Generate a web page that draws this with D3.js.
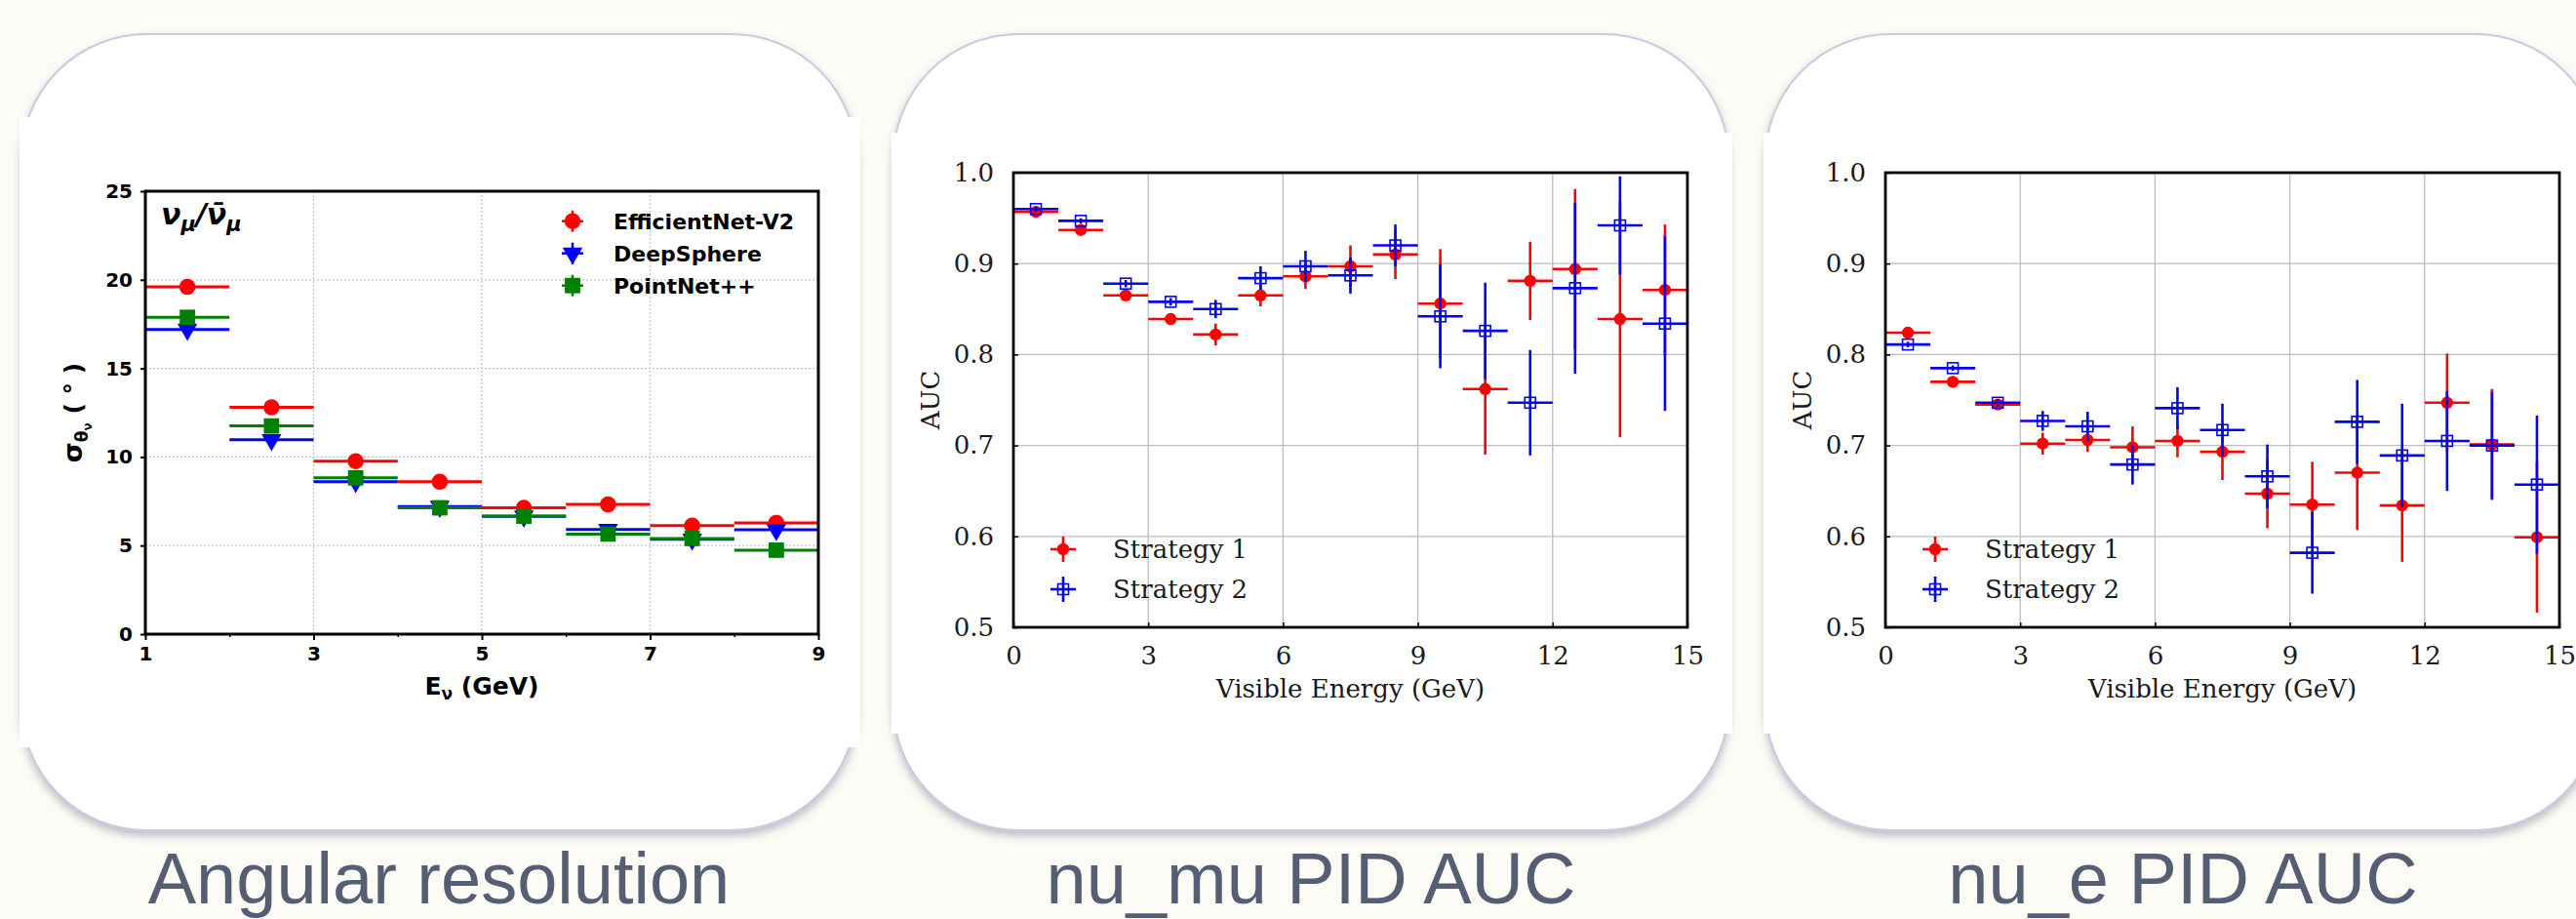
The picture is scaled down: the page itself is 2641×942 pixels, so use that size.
<!DOCTYPE html>
<html>
<head>
<meta charset="utf-8">
<script src="https://cdn.jsdelivr.net/npm/d3@7"></script>
<style>
  html, body { margin: 0; padding: 0; background: #fcfbf5; }
  svg { display: block; }
</style>
</head>
<body>
<script>
// Data
//////////////////////////////////////////////////////////////////////
// angular resolution, bins of 1 GeV
var angEnergy = [1.5, 2.5, 3.5, 4.5, 5.5, 6.5, 7.5, 8.5];
var effNet     = [19.6, 12.8, 9.76, 8.6, 7.13, 7.32, 6.12, 6.28];
var deepSphere = [17.2, 10.97, 8.6, 7.2, 6.65, 5.9, 5.35, 5.89];
var pointNet   = [17.88, 11.75, 8.82, 7.13, 6.66, 5.65, 5.4, 4.74];
var angNames = ["EfficientNet-V2", "DeepSphere", "PointNet++"];

// PID AUC, bins of 1 GeV visible energy
var aucEnergy = [0.5, 1.5, 2.5, 3.5, 4.5, 5.5, 6.5, 7.5, 8.5, 9.5, 10.5, 11.5, 12.5, 13.5, 14.5];
var numuS1    = [0.957, 0.937, 0.865, 0.839, 0.822, 0.865, 0.886, 0.897, 0.910, 0.856, 0.762, 0.881, 0.894, 0.839, 0.871];
var numuS1Err = [0.003, 0.003, 0.004, 0.005, 0.012, 0.012, 0.014, 0.023, 0.027, 0.060, 0.072, 0.043, 0.088, 0.130, 0.072];
var numuS2    = [0.960, 0.947, 0.878, 0.858, 0.850, 0.884, 0.897, 0.887, 0.920, 0.842, 0.826, 0.747, 0.873, 0.942, 0.834];
var numuS2Err = [0.003, 0.003, 0.004, 0.004, 0.010, 0.013, 0.017, 0.020, 0.023, 0.057, 0.053, 0.058, 0.094, 0.054, 0.096];
var nueS1     = [0.824, 0.770, 0.745, 0.702, 0.706, 0.698, 0.705, 0.693, 0.647, 0.635, 0.670, 0.634, 0.747, 0.701, 0.599];
var nueS1Err  = [0.003, 0.003, 0.005, 0.012, 0.013, 0.023, 0.018, 0.031, 0.038, 0.047, 0.063, 0.062, 0.054, 0.061, 0.083];
var nueS2     = [0.811, 0.785, 0.747, 0.727, 0.721, 0.679, 0.741, 0.717, 0.666, 0.582, 0.726, 0.689, 0.705, 0.700, 0.657];
var nueS2Err  = [0.003, 0.003, 0.004, 0.011, 0.016, 0.022, 0.023, 0.029, 0.035, 0.045, 0.046, 0.057, 0.055, 0.059, 0.076];
var strategyNames = ["Strategy 1", "Strategy 2"];

var captions = ["Angular resolution", "nu_mu PID AUC", "nu_e PID AUC"];

// Layout
//////////////////////////////////////////////////////////////////////
var width = 2641, height = 942;
var cardW = 856, cardTop = 35, cardH = 816, cardR = 128;
var cardX = [22, 916, 1810];
var sheets = [
  { x: 20, y: 120, w: 862, h: 646 },
  { x: 914, y: 136, w: 862, h: 616 },
  { x: 1808, y: 136, w: 862, h: 616 }
];
var red = "#ff0000", blue = "#0000ff", green = "#008000";

var svg = d3.select("body").append("svg")
  .attr("width", width)
  .attr("height", height);

var defs = svg.append("defs");
defs.append("filter")
  .attr("id", "cardShadow")
  .attr("x", "-5%").attr("y", "-5%").attr("width", "110%").attr("height", "115%")
  .append("feDropShadow")
  .attr("dx", 0).attr("dy", 5).attr("stdDeviation", 4)
  .attr("flood-color", "#7d8398").attr("flood-opacity", 0.5);

// Cards
//////////////////////////////////////////////////////////////////////
svg.append("g").selectAll("rect")
  .data(cardX)
  .join("rect")
  .attr("x", d => d).attr("y", cardTop)
  .attr("width", cardW).attr("height", cardH)
  .attr("rx", cardR).attr("ry", cardR)
  .attr("fill", "#ffffff")
  .attr("stroke", "#c7cce0").attr("stroke-width", 2)
  .attr("filter", "url(#cardShadow)");

svg.append("g").selectAll("rect")
  .data(sheets)
  .join("rect")
  .attr("x", d => d.x).attr("y", d => d.y)
  .attr("width", d => d.w).attr("height", d => d.h)
  .attr("fill", "#ffffff");

svg.append("g")
  .attr("font-family", "'Liberation Sans', Arial, sans-serif")
  .attr("font-size", 74)
  .attr("fill", "#555e72")
  .attr("text-anchor", "middle")
  .selectAll("text")
  .data(captions)
  .join("text")
  .attr("x", (d, i) => cardX[i] + cardW / 2)
  .attr("y", 926)
  .text(d => d);

// Chart 1: angular resolution
//////////////////////////////////////////////////////////////////////
(function angularChart() {
  var p = { left: 149, right: 839, top: 196, bottom: 650 };
  var x = d3.scaleLinear().domain([1, 9]).range([p.left, p.right]);
  var y = d3.scaleLinear().domain([0, 25]).range([p.bottom, p.top]);
  var g = svg.append("g")
    .attr("font-family", "'DejaVu Sans', sans-serif")
    .attr("font-weight", "bold");

  // dotted grid
  var grid = g.append("g")
    .attr("stroke", "#c4c4c4").attr("stroke-width", 1.2).attr("stroke-dasharray", "2,2");
  grid.selectAll("line.v").data([3, 5, 7]).join("line")
    .attr("x1", d => x(d)).attr("x2", d => x(d)).attr("y1", p.top).attr("y2", p.bottom);
  grid.selectAll("line.h").data([5, 10, 15, 20]).join("line")
    .attr("x1", p.left).attr("x2", p.right).attr("y1", d => y(d)).attr("y2", d => y(d));

  var series = [
    { name: angNames[0], values: effNet, color: red, shape: d3.symbolCircle, size: 215, rot: 0 },
    { name: angNames[1], values: deepSphere, color: blue, shape: d3.symbolTriangle, size: 180, rot: 180 },
    { name: angNames[2], values: pointNet, color: green, shape: d3.symbolSquare, size: 250, rot: 0 }
  ];

  series.forEach(function (s) {
    var sg = g.append("g");
    var pts = angEnergy.map((e, i) => ({ e: e, v: s.values[i] }));
    sg.selectAll("line").data(pts).join("line")
      .attr("x1", d => x(d.e - 0.5)).attr("x2", d => x(d.e + 0.5))
      .attr("y1", d => y(d.v)).attr("y2", d => y(d.v))
      .attr("stroke", s.color).attr("stroke-width", 3);
    sg.selectAll("path").data(pts).join("path")
      .attr("d", d3.symbol(s.shape, s.size))
      .attr("transform", d => `translate(${x(d.e)},${y(d.v)}) rotate(${s.rot})`)
      .attr("fill", s.color);
  });

  // frame
  g.append("rect")
    .attr("x", p.left).attr("y", p.top)
    .attr("width", p.right - p.left).attr("height", p.bottom - p.top)
    .attr("fill", "none").attr("stroke", "#000").attr("stroke-width", 3);

  // axes
  var yAxis = g.append("g")
    .attr("transform", `translate(${p.left},0)`)
    .call(d3.axisLeft(y).tickValues([0, 5, 10, 15, 20, 25]).tickSizeInner(5).tickSizeOuter(0).tickPadding(8));
  var xAxis = g.append("g")
    .attr("transform", `translate(0,${p.bottom})`)
    .call(d3.axisBottom(x).tickValues([1, 3, 5, 7, 9]).tickSizeInner(6).tickSizeOuter(0).tickPadding(7));
  g.append("g")
    .attr("transform", `translate(0,${p.bottom})`)
    .call(d3.axisBottom(x).tickValues([2, 4, 6, 8]).tickSizeInner(3).tickSizeOuter(0).tickFormat(""))
    .call(a => a.select(".domain").remove())
    .selectAll("line").attr("stroke-width", 1.5);
  [yAxis, xAxis].forEach(function (a) {
    a.select(".domain").remove();
    a.selectAll("line").attr("stroke-width", 2);
    a.selectAll("text")
      .attr("font-family", "'DejaVu Sans', sans-serif")
      .attr("font-weight", "bold").attr("font-size", 20).attr("fill", "#000");
  });

  // labels
  var xl = g.append("text")
    .attr("x", (p.left + p.right) / 2).attr("y", 712)
    .attr("text-anchor", "middle").attr("font-size", 25);
  xl.append("tspan").text("E");
  xl.append("tspan").attr("font-size", 17).attr("dy", 5).text("ν");
  xl.append("tspan").attr("dy", -5).text(" (GeV)");

  var yl = g.append("text")
    .attr("transform", `translate(84,${(p.top + p.bottom) / 2}) rotate(-90)`)
    .attr("text-anchor", "middle").attr("font-size", 27);
  yl.append("tspan").text("σ");
  yl.append("tspan").attr("font-size", 17).attr("dy", 6).text("θ");
  yl.append("tspan").attr("font-size", 12).attr("dy", 4).text("ν");
  yl.append("tspan").attr("font-size", 25).attr("dy", -10).text(" ( ° )");

  var tag = g.append("text")
    .attr("x", 165).attr("y", 230)
    .attr("font-style", "italic").attr("font-size", 30);
  tag.append("tspan").text("ν");
  tag.append("tspan").attr("font-size", 21).attr("dy", 7).text("μ");
  tag.append("tspan").attr("dy", -7).text("/ν\u0304");
  tag.append("tspan").attr("font-size", 21).attr("dy", 7).text("μ");

  // legend
  var leg = g.append("g").selectAll("g")
    .data(series)
    .join("g")
    .attr("transform", (d, i) => `translate(587,${226.7 + i * 33})`);
  leg.append("line").attr("x1", -11).attr("x2", 11)
    .attr("stroke", d => d.color).attr("stroke-width", 2.5);
  leg.append("line").attr("y1", -11).attr("y2", 11)
    .attr("stroke", d => d.color).attr("stroke-width", 2.5);
  leg.append("path")
    .attr("d", d => d3.symbol(d.shape, d.size)())
    .attr("transform", d => `rotate(${d.rot})`)
    .attr("fill", d => d.color);
  leg.append("text")
    .attr("x", 42).attr("dy", "0.36em")
    .attr("font-size", 22)
    .text(d => d.name);
})();

// Charts 2 and 3: PID AUC
//////////////////////////////////////////////////////////////////////
function aucChart(p, s1, s1Err, s2, s2Err) {
  var x = d3.scaleLinear().domain([0, 15]).range([p.left, p.right]);
  var y = d3.scaleLinear().domain([0.5, 1.0]).range([p.bottom, p.top]);
  var g = svg.append("g").attr("font-family", "'DejaVu Serif', serif");

  var grid = g.append("g").attr("stroke", "#bdbdbd").attr("stroke-width", 1.3);
  grid.selectAll("line.v").data([3, 6, 9, 12]).join("line")
    .attr("x1", d => x(d)).attr("x2", d => x(d)).attr("y1", p.top).attr("y2", p.bottom);
  grid.selectAll("line.h").data([0.6, 0.7, 0.8, 0.9]).join("line")
    .attr("x1", p.left).attr("x2", p.right).attr("y1", d => y(d)).attr("y2", d => y(d));

  var series = [
    { values: s1, errs: s1Err, color: red, filled: true },
    { values: s2, errs: s2Err, color: blue, filled: false }
  ];

  series.forEach(function (s) {
    var pts = aucEnergy.map((e, i) => ({ e: e, v: s.values[i], err: s.errs[i] }));
    var sg = g.append("g").attr("stroke", s.color);
    sg.selectAll("line.xe").data(pts).join("line")
      .attr("x1", d => x(d.e - 0.5)).attr("x2", d => x(d.e + 0.5))
      .attr("y1", d => y(d.v)).attr("y2", d => y(d.v))
      .attr("stroke-width", 2.6);
    sg.selectAll("line.ye").data(pts).join("line")
      .attr("x1", d => x(d.e)).attr("x2", d => x(d.e))
      .attr("y1", d => y(d.v - d.err)).attr("y2", d => y(d.v + d.err))
      .attr("stroke-width", 2.6);
    if (s.filled) {
      sg.selectAll("circle").data(pts).join("circle")
        .attr("cx", d => x(d.e)).attr("cy", d => y(d.v)).attr("r", 6.2)
        .attr("fill", s.color).attr("stroke", "none");
    } else {
      sg.selectAll("rect").data(pts).join("rect")
        .attr("x", d => x(d.e) - 5.5).attr("y", d => y(d.v) - 5.5)
        .attr("width", 11).attr("height", 11)
        .attr("fill", "none").attr("stroke-width", 1.6);
    }
  });

  g.append("rect")
    .attr("x", p.left).attr("y", p.top)
    .attr("width", p.right - p.left).attr("height", p.bottom - p.top)
    .attr("fill", "none").attr("stroke", "#000").attr("stroke-width", 2.8);

  var yAxis = g.append("g")
    .attr("transform", `translate(${p.left},0)`)
    .call(d3.axisLeft(y).tickValues([0.5, 0.6, 0.7, 0.8, 0.9, 1.0]).tickFormat(d3.format(".1f"))
      .tickSizeInner(-5).tickSizeOuter(0).tickPadding(20));
  var xAxis = g.append("g")
    .attr("transform", `translate(0,${p.bottom})`)
    .call(d3.axisBottom(x).tickValues([0, 3, 6, 9, 12, 15])
      .tickSizeInner(-5).tickSizeOuter(0).tickPadding(20));
  [yAxis, xAxis].forEach(function (a) {
    a.select(".domain").remove();
    a.selectAll("line").attr("stroke-width", 1.5);
    a.selectAll("text")
      .attr("font-family", "'DejaVu Serif', serif")
      .attr("font-size", 26).attr("fill", "#1a1a1a");
  });

  g.append("text")
    .attr("x", (p.left + p.right) / 2).attr("y", 715)
    .attr("text-anchor", "middle").attr("font-size", 26).attr("fill", "#1a1a1a")
    .text("Visible Energy (GeV)");
  g.append("text")
    .attr("transform", `translate(${p.left - 76},${(p.top + p.bottom) / 2}) rotate(-90)`)
    .attr("text-anchor", "middle").attr("font-size", 26).attr("fill", "#1a1a1a")
    .text("AUC");

  var leg = g.append("g").selectAll("g")
    .data(series)
    .join("g")
    .attr("transform", (d, i) => `translate(${p.left + 51},${563 + i * 41})`);
  leg.append("line").attr("x1", -13).attr("x2", 13)
    .attr("stroke", d => d.color).attr("stroke-width", 2.6);
  leg.append("line").attr("y1", -13).attr("y2", 13)
    .attr("stroke", d => d.color).attr("stroke-width", 2.6);
  leg.filter(d => d.filled).append("circle").attr("r", 6.2).attr("fill", d => d.color);
  leg.filter(d => !d.filled).append("rect")
    .attr("x", -5.5).attr("y", -5.5).attr("width", 11).attr("height", 11)
    .attr("fill", "none").attr("stroke", d => d.color).attr("stroke-width", 1.6);
  leg.append("text")
    .attr("x", 51).attr("dy", "0.36em")
    .attr("font-size", 26).attr("fill", "#1a1a1a")
    .text((d, i) => strategyNames[i]);
}

aucChart({ left: 1039, right: 1730, top: 177, bottom: 643 }, numuS1, numuS1Err, numuS2, numuS2Err);
aucChart({ left: 1933, right: 2624, top: 177, bottom: 643 }, nueS1, nueS1Err, nueS2, nueS2Err);
</script>
</body>
</html>
